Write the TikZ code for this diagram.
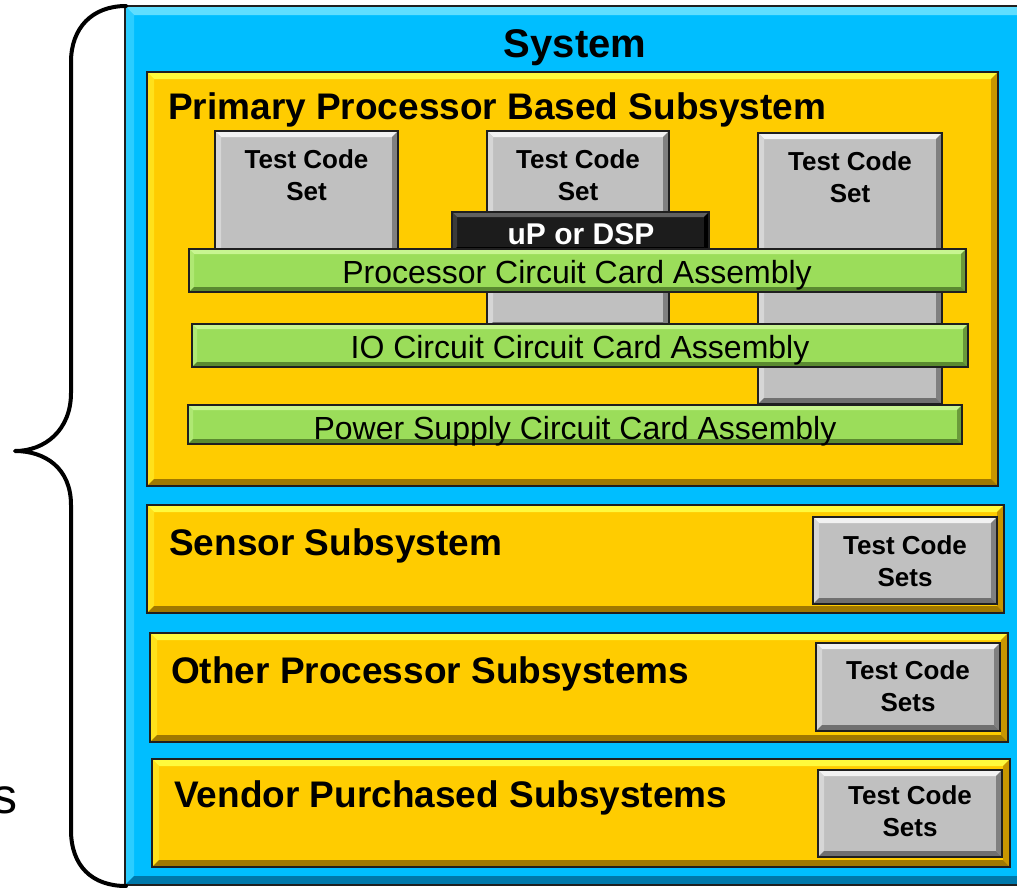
\documentclass[tikz,border=0pt]{standalone}
\usepackage{fontspec}
\setmainfont{Liberation Sans}
\definecolor{sysblue}{RGB}{0,190,255}
\definecolor{sysbluetop}{RGB}{96,222,255}
\definecolor{sysblueright}{RGB}{0,140,190}
\definecolor{sysbluebot}{RGB}{0,120,170}
\definecolor{subyel}{RGB}{255,204,0}
\definecolor{subyeltop}{RGB}{255,250,60}
\definecolor{subyelright}{RGB}{200,150,0}
\definecolor{subyelbot}{RGB}{160,120,0}
\definecolor{tcgray}{RGB}{192,192,192}
\definecolor{tcgraytop}{RGB}{242,242,242}
\definecolor{tcgrayright}{RGB}{128,128,128}
\definecolor{tcgraybot}{RGB}{112,112,112}
\definecolor{ccagreen}{RGB}{155,221,90}
\definecolor{ccagreentop}{RGB}{200,245,145}
\definecolor{ccagreenright}{RGB}{106,154,58}
\definecolor{ccagreenbot}{RGB}{90,138,48}
\definecolor{chipblk}{RGB}{28,28,28}
\definecolor{chipblktop}{RGB}{96,96,96}
\definecolor{chipblkright}{RGB}{0,0,0}
\definecolor{chipblkbot}{RGB}{0,0,0}
% x1,y1,x2,y2,bevel,face,top,right,bottom
\newcommand\bevelbox[9]{%
  \fill[#6] (#1,#2) rectangle (#3,#4);
  \fill[#7] (#1,#2) -- (#3,#2) -- ({#3-#5},{#2+#5}) -- ({#1+#5},{#2+#5}) -- cycle;
  \fill[#6!55!#7] (#1,#2) -- ({#1+#5},{#2+#5}) -- ({#1+#5},{#4-#5}) -- (#1,#4) -- cycle;
  \fill[#8] (#3,#2) -- ({#3-#5},{#2+#5}) -- ({#3-#5},{#4-#5}) -- (#3,#4) -- cycle;
  \fill[#9] (#1,#4) -- ({#1+#5},{#4-#5}) -- ({#3-#5},{#4-#5}) -- (#3,#4) -- cycle;
  \draw[line width=2.5pt, black!88] (#1,#2) rectangle (#3,#4);
}
\tikzset{
  ttl/.style={font=\bfseries\fontsize{37}{44}\selectfont, inner sep=0pt, anchor=base west},
  tcs/.style={font=\bfseries\fontsize{26}{32}\selectfont, align=center, inner sep=0pt},
  cca/.style={font=\fontsize{32}{38}\selectfont, inner sep=0pt, anchor=base},
  bracestyle/.style={line width=4pt, line cap=round, line join=round},
}
\begin{document}
\begin{tikzpicture}[x=1pt,y=-1pt]
\useasboundingbox (0,0) rectangle (1017,887);
\clip (0,0) rectangle (1017,887);
% system
\bevelbox{125}{6}{1028}{885}{9}{sysblue}{sysbluetop}{sysblueright}{sysbluebot}
\node[font=\bfseries\fontsize{40}{48}\selectfont, inner sep=0pt, anchor=base] (sys) at (575,57) {System};
% brace
\coordinate (bt) at (126,6);
\coordinate (bb) at (126,886);
\draw[bracestyle] (bt) .. controls (92,6) and (71,28) .. (71,62) -- (71,393)
  .. controls (71,430) and (45,451) .. (15,451)
  .. controls (45,451) and (71,468) .. (71,505) -- (71,830)
  .. controls (71,866) and (92,886) .. (bb);
% primary subsystem
\bevelbox{147}{72}{998}{486}{7}{subyel}{subyeltop}{subyelright}{subyelbot}
\node[ttl] (pps) at (168,119) {Primary Processor Based Subsystem};
% test code set boxes
\bevelbox{215}{131}{398}{262}{6}{tcgray}{tcgraytop}{tcgrayright}{tcgraybot}
\node[tcs] (tc1) at (306.5,175.5) {Test Code\\Set};
\bevelbox{487}{131}{669}{328}{6}{tcgray}{tcgraytop}{tcgrayright}{tcgraybot}
\node[tcs] (tc2) at (578,175.5) {Test Code\\Set};
\bevelbox{758}{133}{942}{404}{6}{tcgray}{tcgraytop}{tcgrayright}{tcgraybot}
\node[tcs] (tc3) at (850,177.5) {Test Code\\Set};
% uP
\bevelbox{452}{212}{709}{252}{5}{chipblk}{chipblktop}{chipblkright}{chipblkbot}
\node[font=\bfseries\fontsize{30}{36}\selectfont, text=white, inner sep=0pt, anchor=base] (up) at (581,244) {uP or DSP};
% circuit card assemblies
\bevelbox{189}{249}{966}{292}{5}{ccagreen}{ccagreentop}{ccagreenright}{ccagreenbot}
\node[cca] (cca1) at (577,283) {Processor Circuit Card Assembly};
\bevelbox{192}{324}{968}{367}{5}{ccagreen}{ccagreentop}{ccagreenright}{ccagreenbot}
\node[cca] (cca2) at (580,358) {IO Circuit Circuit Card Assembly};
\bevelbox{188}{405}{962}{444}{5}{ccagreen}{ccagreentop}{ccagreenright}{ccagreenbot}
\node[cca] (cca3) at (575,439) {Power Supply Circuit Card Assembly};
% sensor subsystem
\bevelbox{147}{505}{1004}{613}{7}{subyel}{subyeltop}{subyelright}{subyelbot}
\node[ttl] (sen) at (169,555) {Sensor Subsystem};
\bevelbox{813}{517}{997}{604}{6}{tcgray}{tcgraytop}{tcgrayright}{tcgraybot}
\node[tcs] (tcs1) at (905,561.5) {Test Code\\Sets};
% other processor subsystems
\bevelbox{150}{633}{1008}{742}{7}{subyel}{subyeltop}{subyelright}{subyelbot}
\node[ttl] (oth) at (171,683) {Other Processor Subsystems};
\bevelbox{816}{643}{1000}{731}{6}{tcgray}{tcgraytop}{tcgrayright}{tcgraybot}
\node[tcs] (tcs2) at (908,686.5) {Test Code\\Sets};
% vendor purchased subsystems
\bevelbox{152}{759}{1010}{867}{7}{subyel}{subyeltop}{subyelright}{subyelbot}
\node[ttl] (ven) at (174,807) {Vendor Purchased Subsystems};
\bevelbox{818}{770}{1002}{857}{6}{tcgray}{tcgraytop}{tcgrayright}{tcgraybot}
\node[tcs] (tcs3) at (910,811.5) {Test Code\\Sets};
% clipped label at left
\node[font=\fontsize{50}{56}\selectfont, inner sep=0pt, anchor=base east] (lbl) at (18,813) {s};
\end{tikzpicture}
\end{document}
